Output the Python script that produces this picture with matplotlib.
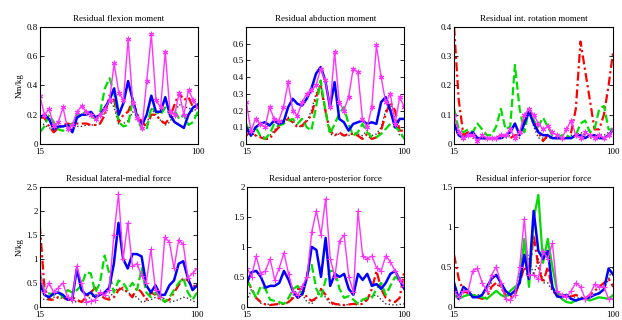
import numpy as np
import matplotlib
matplotlib.use("Agg")
import matplotlib.pyplot as plt
from matplotlib.ticker import FormatStrFormatter

plt.rcParams['font.family'] = ['Liberation Serif', 'DejaVu Serif']
plt.rcParams['font.size'] = 6.5

# common sample points (% of cycle)
x = np.arange(15, 100.1, 2.5)

titles = ['Residual flexion moment', 'Residual abduction moment', 'Residual int. rotation moment',
          'Residual lateral-medial force', 'Residual antero-posterior force', 'Residual inferior-superior force']
ylims = [0.8, 0.7, 0.4, 2.5, 2.0, 1.5]
ystep = [0.2, 0.1, 0.1, 0.5, 0.5, 0.5]
ymaxtick = [0.8, 0.6, 0.4, 2.5, 2.0, 1.5]
ylabels = ['Nm/kg', '', '', 'N/kg', '', '']

# --- flexion moment
blue1 = [0.18, 0.2, 0.17, 0.1, 0.12, 0.12, 0.13, 0.08, 0.18, 0.2, 0.2, 0.22, 0.18, 0.2, 0.25, 0.3, 0.38, 0.2,
         0.28, 0.43, 0.3, 0.18, 0.13, 0.2, 0.33, 0.22, 0.22, 0.32, 0.2, 0.15, 0.13, 0.11, 0.2, 0.25, 0.27]
green1 = [0.08, 0.12, 0.2, 0.15, 0.1, 0.09, 0.12, 0.14, 0.2, 0.2, 0.22, 0.19, 0.17, 0.22, 0.38, 0.45, 0.35, 0.15,
          0.12, 0.13, 0.3, 0.17, 0.1, 0.1, 0.25, 0.22, 0.2, 0.25, 0.2, 0.23, 0.17, 0.2, 0.13, 0.15, 0.22]
red1 = [0.18, 0.18, 0.12, 0.08, 0.11, 0.13, 0.14, 0.13, 0.14, 0.14, 0.14, 0.13, 0.13, 0.14, 0.2, 0.33, 0.3, 0.15,
        0.2, 0.22, 0.3, 0.2, 0.15, 0.12, 0.2, 0.2, 0.16, 0.14, 0.18, 0.27, 0.35, 0.3, 0.32, 0.25, 0.26]
black1 = [0.15, 0.13, 0.11, 0.1, 0.12, 0.12, 0.13, 0.13, 0.12, 0.12, 0.13, 0.13, 0.13, 0.14, 0.22, 0.3, 0.25, 0.13,
          0.14, 0.16, 0.22, 0.18, 0.13, 0.13, 0.24, 0.2, 0.16, 0.13, 0.15, 0.22, 0.27, 0.25, 0.25, 0.22, 0.25]
mag1 = [0.33, 0.2, 0.24, 0.12, 0.15, 0.25, 0.1, 0.13, 0.22, 0.26, 0.22, 0.2, 0.17, 0.2, 0.24, 0.3, 0.55, 0.35,
        0.3, 0.72, 0.28, 0.18, 0.11, 0.43, 0.75, 0.3, 0.25, 0.63, 0.22, 0.2, 0.35, 0.2, 0.37, 0.3, 0.25]

# --- abduction moment
blue2 = [0.1, 0.05, 0.1, 0.12, 0.13, 0.11, 0.14, 0.12, 0.13, 0.22, 0.27, 0.24, 0.23, 0.27, 0.33, 0.42, 0.46, 0.38,
         0.22, 0.37, 0.15, 0.13, 0.08, 0.12, 0.13, 0.14, 0.12, 0.13, 0.12, 0.25, 0.28, 0.2, 0.1, 0.15, 0.15]
green2 = [0.12, 0.05, 0.1, 0.05, 0.03, 0.06, 0.12, 0.11, 0.12, 0.14, 0.15, 0.12, 0.15, 0.1, 0.08, 0.22, 0.38, 0.2,
          0.06, 0.12, 0.18, 0.22, 0.12, 0.05, 0.07, 0.12, 0.07, 0.04, 0.04, 0.06, 0.09, 0.12, 0.1, 0.08, 0.03]
red2 = [0.05, 0.08, 0.05, 0.04, 0.03, 0.03, 0.07, 0.1, 0.13, 0.15, 0.13, 0.1, 0.11, 0.14, 0.17, 0.28, 0.35, 0.2,
        0.08, 0.05, 0.07, 0.05, 0.06, 0.06, 0.05, 0.03, 0.06, 0.03, 0.04, 0.08, 0.18, 0.25, 0.2, 0.08, 0.08]
black2 = [0.08, 0.07, 0.05, 0.05, 0.04, 0.05, 0.08, 0.12, 0.15, 0.16, 0.14, 0.11, 0.1, 0.13, 0.2, 0.3, 0.36, 0.22,
          0.06, 0.05, 0.06, 0.05, 0.05, 0.07, 0.06, 0.05, 0.08, 0.05, 0.06, 0.1, 0.2, 0.24, 0.15, 0.05, 0.04]
mag2 = [0.25, 0.08, 0.15, 0.12, 0.1, 0.22, 0.15, 0.14, 0.22, 0.37, 0.2, 0.17, 0.25, 0.3, 0.32, 0.35, 0.45, 0.38,
        0.22, 0.55, 0.25, 0.2, 0.28, 0.45, 0.43, 0.15, 0.1, 0.22, 0.59, 0.4, 0.25, 0.3, 0.12, 0.28, 0.22]

# --- internal rotation moment
blue3 = [0.07, 0.03, 0.02, 0.03, 0.04, 0.02, 0.02, 0.02, 0.02, 0.02, 0.02, 0.03, 0.04, 0.07, 0.03, 0.07, 0.11, 0.07,
         0.04, 0.03, 0.03, 0.02, 0.02, 0.02, 0.02, 0.02, 0.03, 0.03, 0.02, 0.03, 0.03, 0.02, 0.02, 0.03, 0.05]
green3 = [0.12, 0.05, 0.04, 0.05, 0.04, 0.07, 0.05, 0.03, 0.03, 0.06, 0.12, 0.05, 0.06, 0.27, 0.12, 0.04, 0.12, 0.08,
          0.06, 0.09, 0.06, 0.03, 0.02, 0.03, 0.03, 0.02, 0.03, 0.07, 0.08, 0.04, 0.05, 0.12, 0.13, 0.05, 0.05]
red3 = [0.4, 0.15, 0.03, 0.04, 0.03, 0.02, 0.02, 0.02, 0.02, 0.02, 0.03, 0.03, 0.02, 0.03, 0.03, 0.08, 0.12, 0.08,
        0.04, 0.01, 0.03, 0.02, 0.02, 0.02, 0.02, 0.04, 0.12, 0.35, 0.25, 0.15, 0.05, 0.05, 0.1, 0.2, 0.32]
black3 = [0.05, 0.03, 0.03, 0.03, 0.02, 0.02, 0.02, 0.02, 0.02, 0.02, 0.02, 0.02, 0.03, 0.03, 0.02, 0.08, 0.12, 0.06,
          0.02, 0.02, 0.02, 0.02, 0.02, 0.02, 0.02, 0.03, 0.03, 0.04, 0.03, 0.02, 0.02, 0.03, 0.03, 0.04, 0.05]
mag3 = [0.1, 0.04, 0.02, 0.03, 0.03, 0.01, 0.03, 0.02, 0.02, 0.02, 0.03, 0.03, 0.05, 0.02, 0.04, 0.1, 0.12, 0.1,
        0.07, 0.05, 0.06, 0.04, 0.03, 0.02, 0.05, 0.08, 0.03, 0.02, 0.04, 0.03, 0.02, 0.03, 0.02, 0.03, 0.05]

# --- lateral-medial force
blue4 = [0.5, 0.25, 0.2, 0.28, 0.3, 0.25, 0.15, 0.15, 0.8, 0.35, 0.25, 0.3, 0.2, 0.25, 0.3, 0.4, 0.9, 1.75,
         1.0, 0.8, 1.1, 1.1, 1.05, 0.45, 0.3, 0.45, 0.25, 0.25, 0.45, 0.55, 0.9, 0.95, 0.6, 0.35, 0.45]
green4 = [0.7, 0.3, 0.28, 0.25, 0.3, 0.2, 0.35, 0.3, 0.35, 0.45, 0.72, 0.7, 0.3, 0.5, 1.07, 0.7, 0.3, 0.55,
          0.5, 0.35, 0.5, 0.35, 0.8, 0.3, 0.2, 0.3, 0.2, 0.1, 0.2, 0.35, 0.5, 0.6, 0.3, 0.15, 0.3]
red4 = [1.7, 0.4, 0.15, 0.15, 0.2, 0.2, 0.15, 0.2, 0.15, 0.1, 0.2, 0.3, 0.4, 0.25, 0.18, 0.15, 0.2, 0.35,
        0.4, 0.3, 0.2, 0.4, 0.3, 0.15, 0.3, 0.25, 0.15, 0.12, 0.15, 0.3, 0.45, 0.6, 0.55, 0.4, 0.5]
black4 = [0.2, 0.15, 0.15, 0.2, 0.2, 0.18, 0.15, 0.12, 0.1, 0.12, 0.15, 0.2, 0.25, 0.3, 0.25, 0.2, 0.3, 0.4,
          0.35, 0.3, 0.25, 0.2, 0.1, 0.12, 0.15, 0.2, 0.25, 0.15, 0.1, 0.12, 0.15, 0.2, 0.18, 0.12, 0.1]
mag4 = [0.7, 0.3, 0.5, 0.3, 0.4, 0.5, 0.2, 0.15, 0.85, 0.5, 0.1, 0.12, 0.15, 0.3, 0.25, 0.35, 1.5, 2.35,
        1.0, 1.75, 0.85, 0.9, 0.65, 0.5, 1.2, 0.35, 0.2, 1.45, 1.35, 0.8, 1.4, 1.3, 0.6, 0.7, 0.8]

# --- antero-posterior force
blue5 = [0.4, 0.58, 0.6, 0.5, 0.32, 0.35, 0.35, 0.4, 0.6, 0.45, 0.25, 0.15, 0.22, 0.5, 1.0, 0.95, 0.5, 1.15,
         0.35, 0.55, 0.5, 0.55, 0.3, 0.2, 0.55, 0.45, 0.55, 0.35, 0.38, 0.3, 0.4, 0.55, 0.6, 0.45, 0.3]
green5 = [0.45, 0.3, 0.15, 0.35, 0.3, 0.12, 0.1, 0.08, 0.05, 0.15, 0.3, 0.35, 0.2, 0.55, 0.7, 0.3, 0.15, 0.45,
          0.6, 0.6, 0.3, 0.15, 0.18, 0.12, 0.05, 0.12, 0.15, 0.15, 0.3, 0.4, 0.2, 0.35, 0.5, 0.45, 0.3]
red5 = [0.45, 0.3, 0.15, 0.08, 0.04, 0.03, 0.04, 0.05, 0.05, 0.08, 0.15, 0.3, 0.3, 0.15, 0.1, 0.15, 0.3, 0.2,
        0.08, 0.05, 0.04, 0.03, 0.04, 0.05, 0.04, 0.05, 0.12, 0.3, 0.6, 0.3, 0.15, 0.1, 0.08, 0.15, 0.6]
black5 = [0.1, 0.3, 0.15, 0.06, 0.05, 0.04, 0.04, 0.05, 0.05, 0.08, 0.2, 0.3, 0.2, 0.08, 0.05, 0.15, 0.3, 0.15,
          0.05, 0.04, 0.03, 0.03, 0.04, 0.05, 0.07, 0.1, 0.13, 0.18, 0.2, 0.12, 0.05, 0.04, 0.03, 0.04, 0.05]
mag5 = [0.65, 0.5, 0.85, 0.55, 0.6, 0.8, 0.45, 0.65, 0.9, 0.55, 0.25, 0.2, 0.35, 0.5, 1.25, 1.6, 1.2, 1.8,
        0.8, 0.5, 1.1, 1.2, 0.5, 0.25, 1.6, 0.85, 0.8, 0.85, 0.65, 0.6, 0.85, 0.75, 0.6, 0.45, 0.35]

# --- inferior-superior force
blue6 = [0.3, 0.1, 0.25, 0.2, 0.12, 0.12, 0.15, 0.25, 0.35, 0.4, 0.3, 0.2, 0.15, 0.2, 0.3, 0.65, 0.35, 1.2,
         0.7, 0.6, 0.7, 0.25, 0.13, 0.12, 0.15, 0.1, 0.08, 0.1, 0.1, 0.12, 0.15, 0.17, 0.22, 0.48, 0.4]
green6 = [0.15, 0.1, 0.13, 0.15, 0.15, 0.13, 0.12, 0.1, 0.15, 0.2, 0.15, 0.12, 0.2, 0.25, 0.3, 0.85, 0.25, 1.1,
          1.4, 0.55, 0.85, 0.5, 0.2, 0.1, 0.06, 0.05, 0.08, 0.1, 0.1, 0.08, 0.1, 0.12, 0.11, 0.1, 0.15]
red6 = [0.65, 0.35, 0.2, 0.17, 0.15, 0.12, 0.1, 0.12, 0.25, 0.3, 0.25, 0.15, 0.12, 0.15, 0.3, 0.5, 0.35, 0.9,
        0.5, 0.3, 0.5, 0.2, 0.15, 0.15, 0.12, 0.13, 0.15, 0.12, 0.1, 0.15, 0.2, 0.25, 0.3, 0.35, 0.25]
black6 = [0.2, 0.12, 0.18, 0.18, 0.15, 0.15, 0.15, 0.22, 0.3, 0.28, 0.25, 0.12, 0.15, 0.2, 0.4, 0.8, 0.6, 0.4,
          0.6, 0.3, 0.3, 0.2, 0.15, 0.15, 0.15, 0.13, 0.12, 0.1, 0.1, 0.12, 0.15, 0.18, 0.22, 0.35, 0.5]
mag6 = [0.2, 0.12, 0.2, 0.2, 0.45, 0.48, 0.3, 0.2, 0.4, 0.5, 0.3, 0.1, 0.08, 0.15, 0.5, 1.1, 0.4, 0.4,
        0.35, 0.7, 0.6, 0.8, 0.2, 0.15, 0.12, 0.2, 0.3, 0.25, 0.1, 0.15, 0.28, 0.25, 0.25, 0.1, 0.1]

blues = [blue1, blue2, blue3, blue4, blue5, blue6]
greens = [green1, green2, green3, green4, green5, green6]
reds = [red1, red2, red3, red4, red5, red6]
blacks = [black1, black2, black3, black4, black5, black6]
mags = [mag1, mag2, mag3, mag4, mag5, mag6]

fig = plt.figure(figsize=(6.22, 3.2), dpi=100)
# axes boxes [left, bottom, width, height] in figure fractions
boxes = [[0.064, 0.55, 0.254, 0.366], [0.396, 0.55, 0.254, 0.366], [0.730, 0.55, 0.256, 0.366],
         [0.064, 0.041, 0.253, 0.375], [0.397, 0.041, 0.253, 0.375], [0.730, 0.041, 0.256, 0.375]]

for k in range(6):
    ax = fig.add_axes(boxes[k])
    ax.plot(x, blacks[k], color='#333333', ls=':', lw=1.0)
    ax.plot(x, reds[k], color='red', ls=(0, (4, 1.5, 1, 1.5)), lw=1.6)
    gls = '-' if k == 5 else '--'
    ax.plot(x, greens[k], color='#00dd00', ls=gls, lw=1.6)
    ax.plot(x, blues[k], color='blue', ls='-', lw=1.8)
    mk = (6, 2, 0) if k < 3 else '+'
    ax.plot(x, mags[k], color='#ff33ff', ls='-', lw=1.0, marker=mk, ms=4, mew=0.8)
    ax.set_xlim(15, 100)
    ax.set_ylim(0, ylims[k])
    ax.set_xticks([15, 100])
    ax.set_yticks(np.arange(0, ymaxtick[k] + 1e-9, ystep[k]))
    ax.yaxis.set_major_formatter(FormatStrFormatter('%g'))
    ax.tick_params(direction='in', length=3, width=0.6, top=True, right=True, labelsize=6.5)
    ax.tick_params(axis='x', pad=3)
    ax.tick_params(axis='y', pad=1.5)
    for s in ax.spines.values():
        s.set_linewidth(0.8)
    ax.set_title(titles[k], fontsize=6.5, pad=4)
    if ylabels[k]:
        ax.set_ylabel(ylabels[k], fontsize=6.5, labelpad=2)

fig.savefig('out.png', dpi=100)
